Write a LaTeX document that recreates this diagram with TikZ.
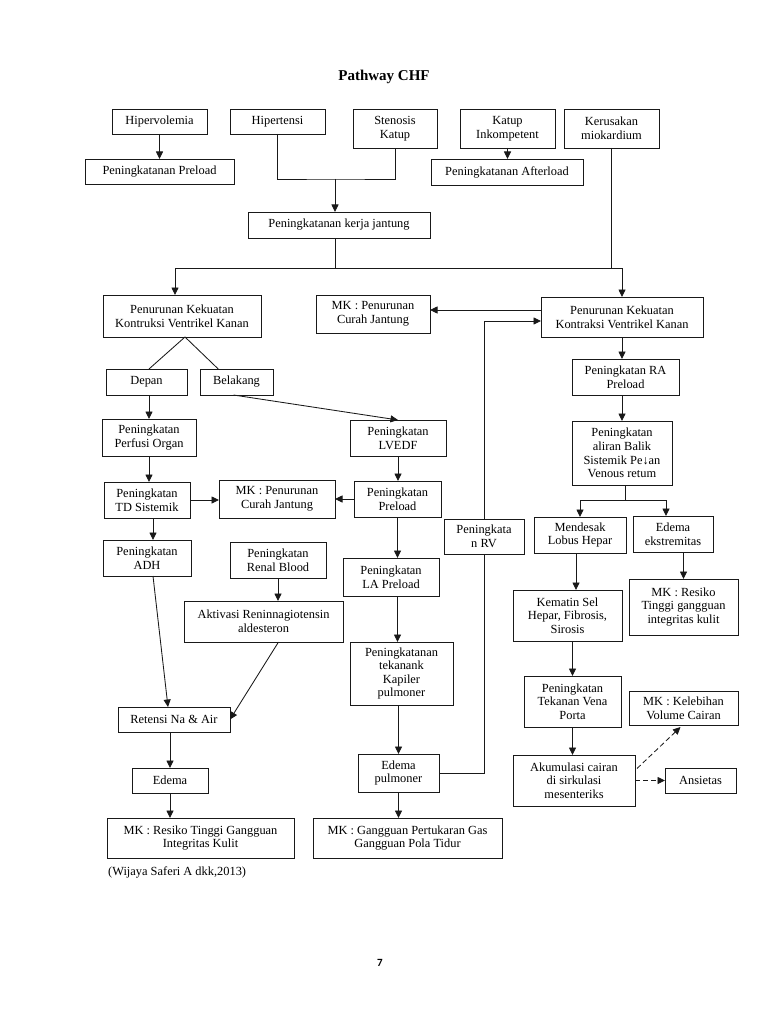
\documentclass[tikz,border=0pt]{standalone}
\usepackage{fontspec}
\setmainfont{Liberation Serif}
\newfontfamily\pagefont{Carlito}
\usetikzlibrary{arrows.meta,calc}
\newcommand\boxfont{\fontsize{12.4}{13.6}\selectfont}
\newcommand\bx[6]{\node[box, minimum width={(#4-#2)*1pt}, minimum height={(#5-#3)*1pt}] (#1) at ({(#2+#4)/2},{(#3+#5)/2}) {#6};}
\tikzset{
  box/.style={draw=black!90, line width=0.85pt, inner sep=0pt, outer sep=0pt, align=center, font=\boxfont},
  arr/.style={line width=0.85pt, draw=black!90, -{Triangle[length=7.5pt,width=7pt]}},
  ln/.style={line width=0.85pt, draw=black!90},
  darr/.style={arr, dash pattern=on 5pt off 3pt}
}
\begin{document}
\begin{tikzpicture}[x=1pt,y=-1pt]
\useasboundingbox[fill=white] (0,0) rectangle (768,1024);
\node[font=\fontsize{15}{17}\selectfont\bfseries] (title) at (384,77) {Pathway CHF};

\bx{hv}{112}{109}{207}{134}{Hipervolemia}
\bx{ht}{230}{109}{325}{134}{Hipertensi}
\bx{sk}{353}{109}{437}{148}{Stenosis\\Katup}
\bx{ki}{460}{109}{555}{148}{Katup\\Inkompetent}
\bx{km}{564}{109}{659}{148}{Kerusakan\\miokardium}
\bx{pp}{85}{159}{234}{184}{Peningkatanan Preload}
\bx{pa}{431}{159}{583}{185}{Peningkatanan Afterload}
\bx{kj}{248}{212}{430}{238}{Peningkatanan kerja jantung}
\bx{pkl}{103}{295}{261}{337}{Penurunan Kekuatan\\Kontruksi Ventrikel Kanan}
\bx{mkt}{316}{295}{430}{333}{MK : Penurunan\\Curah Jantung}
\bx{pkr}{541}{297}{703}{337}{Penurunan Kekuatan\\Kontraksi Ventrikel Kanan}
\bx{dp}{106}{369}{187}{395}{Depan}
\bx{bl}{200}{369}{273}{395}{Belakang}
\bx{pf}{102}{419}{196}{456}{Peningkatan\\Perfusi Organ}
\bx{lv}{350}{420}{446}{456}{Peningkatan\\LVEDF}
\bx{ra}{572}{359}{679}{395}{Peningkatan RA\\Preload}
\bx{al}{572}{421}{672}{485}{Peningkatan\\aliran Balik\\Sistemik Pe↓an\\Venous retum}
\bx{td}{104}{482}{190}{518}{Peningkatan\\TD Sistemik}
\bx{mkm}{219}{480}{335}{518}{MK : Penurunan\\Curah Jantung}
\bx{pl}{354}{481}{441}{517}{Peningkatan\\Preload}
\bx{rv}{444}{519}{524}{554}{Peningkata\\n RV}
\bx{md}{534}{517}{626}{553}{Mendesak\\Lobus Hepar}
\bx{ee}{633}{516}{713}{552}{Edema\\ekstremitas}
\bx{ad}{103}{540}{191}{576}{Peningkatan\\ADH}
\bx{rb}{230}{542}{326}{578}{Peningkatan\\Renal Blood}
\bx{la}{343}{558}{439}{596}{Peningkatan\\LA Preload}
\bx{av}{184}{601}{343}{642}{Aktivasi Reninnagiotensin\\aldesteron}
\bx{kt}{513}{590}{622}{641}{Kematin Sel\\Hepar, Fibrosis,\\Sirosis}
\bx{mkr}{629}{579}{738}{635}{MK : Resiko\\Tinggi gangguan\\integritas kulit}
\bx{tk}{350}{642}{453}{705}{Peningkatanan\\tekanank\\Kapiler\\pulmoner}
\bx{vp}{524}{676}{621}{727}{Peningkatan\\Tekanan Vena\\Porta}
\bx{kv}{629}{691}{738}{725}{MK : Kelebihan\\Volume Cairan}
\bx{rt}{118}{707}{230}{732}{Retensi Na \& Air}
\bx{ak}{513}{755}{635}{806}{Akumulasi cairan\\di sirkulasi\\mesenteriks}
\bx{an}{665}{768}{736}{793}{Ansietas}
\bx{ep}{358}{754}{439}{792}{Edema\\pulmoner}
\bx{ed}{132}{768}{208}{793}{Edema}
\bx{mkl}{107}{818}{294}{858}{MK : Resiko Tinggi Gangguan\\Integritas Kulit}
\bx{mkg}{313}{818}{502}{858}{MK : Gangguan Pertukaran Gas\\Gangguan Pola Tidur}

\node[font=\boxfont, anchor=west, inner sep=0pt] (cite) at (108,872) {(Wijaya Saferi A dkk,2013)};
\node[font=\pagefont\fontsize{11}{13}\selectfont\bfseries] (pg) at (380,963) {7};

% top connectors
\draw[arr] (hv.south) -- (hv.south |- pp.north);
\draw[arr] (ki.south) -- (ki.south |- pa.north);
\coordinate (j1) at (335,179);
\draw[ln] (ht.south) |- (j1) -| (sk.south);
\draw[arr] (j1) -- (j1 |- kj.north);
\coordinate (jl) at (175,268);
\coordinate (jr) at (622,268);
\draw[ln] (j1 |- kj.south) -- (j1 |- jl);
\draw[ln] (jl) -- (jr);
\draw[arr] (jl) -- (jl |- pkl.north);
\draw[arr] (jr) -- (jr |- pkr.north);
\draw[ln] (km.south) -- (km.south |- jr);

% left branch
\draw[ln] ($(pkl.south)+(3,0)$) -- ($(dp.north)+(2.5,0)$);
\draw[ln] ($(pkl.south)+(3,0)$) -- ($(bl.north west)!0.25!(bl.north east)$);
\draw[arr] (pf.north |- dp.south) -- (pf.north);
\draw[arr] ($(bl.south)+(-3,0)$) -- (lv.north);
\draw[arr] (pf.south) -- (pf.south |- td.north);
\draw[arr] (td.east) -- (td.east -| mkm.west);
\draw[arr] (pl.west) -- (pl.west -| mkm.east);
\draw[arr] (lv.south) -- (lv.south |- pl.north);
\draw[arr] (pl.south) -- (pl.south |- la.north);
\draw[arr] (la.south -| pl.south) -- (tk.north -| pl.south);
\draw[arr] (tk.south -| ep.north) -- (ep.north);
\draw[arr] (ep.south) -- (ep.south |- mkg.north);
\draw[ln] (ep.east) -| (rv.south);
\coordinate (a2) at ($(pkr.west)+(0,4)$);
\draw[arr] (rv.north) |- (a2);
\coordinate (a1) at ($(pkr.west)+(0,-7)$);
\draw[arr] (a1) -- (a1 -| mkt.east);

% lower left
\draw[arr] ($(td.south)+(6,0)$) -- ($(ad.north)+(6,0)$);
\draw[arr] ($(ad.south)+(6,0)$) -- ($(rt.north)+(-6,0)$);
\draw[arr] (rb.south) -- (rb.south |- av.north);
\draw[arr] ($(av.south)+(15,0)$) -- (rt.east);
\draw[arr] (ed.north |- rt.south) -- (ed.north);
\draw[arr] (ed.south) -- (ed.south |- mkl.north);

% right branch
\draw[arr] (pkr.south) -- (pkr.south |- ra.north);
\draw[arr] (ra.south -| al.north) -- (al.north);
\draw[ln] ($(al.south)+(3,0)$) -- ++(0,15) coordinate (sp);
\draw[arr] (sp) -| (md.north);
\draw[arr] (sp) -| ($(ee.north)+(-7,0)$);
\draw[arr] ($(md.south)+(-4,0)$) -- ($(md.south |- kt.north)+(-4,0)$);
\draw[arr] (mkr.north |- ee.south) -- (mkr.north);
\draw[arr] (vp.north |- kt.south) -- (vp.north);
\draw[arr] (vp.south) -- (vp.south |- ak.north);
\draw[darr] ($(ak.east)+(2,-12)$) -- ($(kv.south)+(-3,2)$);
\draw[darr] (ak.east) -- (an.west);
\end{tikzpicture}
\end{document}
